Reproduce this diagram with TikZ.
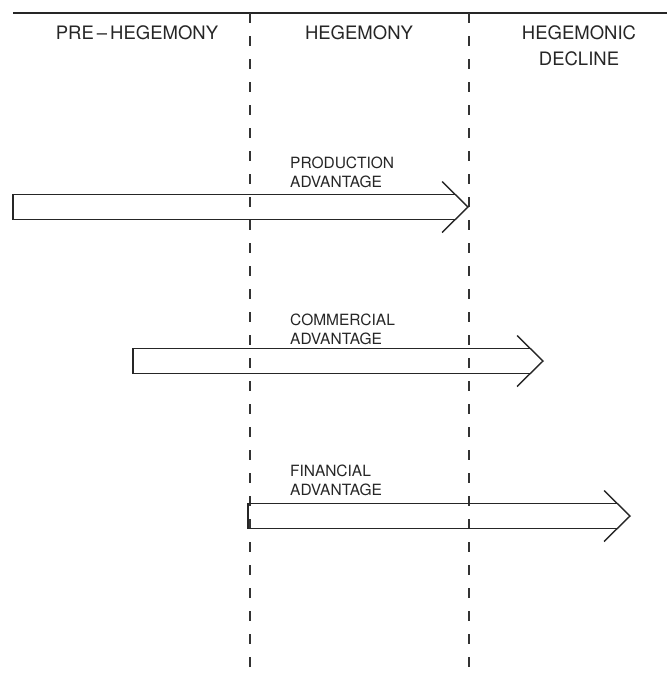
\documentclass[tikz,border=0pt]{standalone}
\usepackage{fontspec}
\setmainfont{TeX Gyre Heros}
\begin{document}
\begin{tikzpicture}[x=1pt,y=-1pt,
    band/.style={line width=1.4pt,black!85,line join=miter},
    divider/.style={line width=1.1pt,black!80,dash pattern=on 10pt off 13pt},
    phase/.style={inner sep=0pt,anchor=north,align=center,black!85,font=\fontsize{18.5}{26}\selectfont},
    advlabel/.style={inner sep=0pt,anchor=north west,align=left,black!85,font=\fontsize{15.5}{18.5}\selectfont}]
    \useasboundingbox (0,0) rectangle (667,680);
    % frame top and phase borders
    \draw[line width=1.2pt,black!85] (13,13)--(667,13);
    \draw[divider] (250,13)--(250,680);
    \draw[divider] (469,13)--(469,680);
    % phase headings
    \node[phase] (pre) at (137,25) {PRE\kern3pt--\kern3pt HEGEMONY};
    \node[phase] (heg) at (359,25) {HEGEMONY};
    \node[phase] (dec) at (579,25) {HEGEMONIC\\DECLINE};
    % open arrows: left end / tip / centre line
    \foreach \l/\t/\c/\n in {13/468/207/prod, 133/543/361/comm, 248/630/516/fin}{
        \coordinate (\n tip) at (\t,\c);
        \draw[band] (\t-26,\c-25.5)--(\n tip)--(\t-26,\c+25.5);
        \draw[band] (\t-12.7,\c-12.5)--(\l,\c-12.5)--(\l,\c+12.5)--(\t-12.7,\c+12.5);
    }
    % advantage labels
    \node[advlabel] (prodlab) at (290,157) {PRODUCTION\\ADVANTAGE};
    \node[advlabel] (commlab) at (290,314) {COMMERCIAL\\ADVANTAGE};
    \node[advlabel] (finlab) at (290,465) {FINANCIAL\\ADVANTAGE};
\end{tikzpicture}
\end{document}
